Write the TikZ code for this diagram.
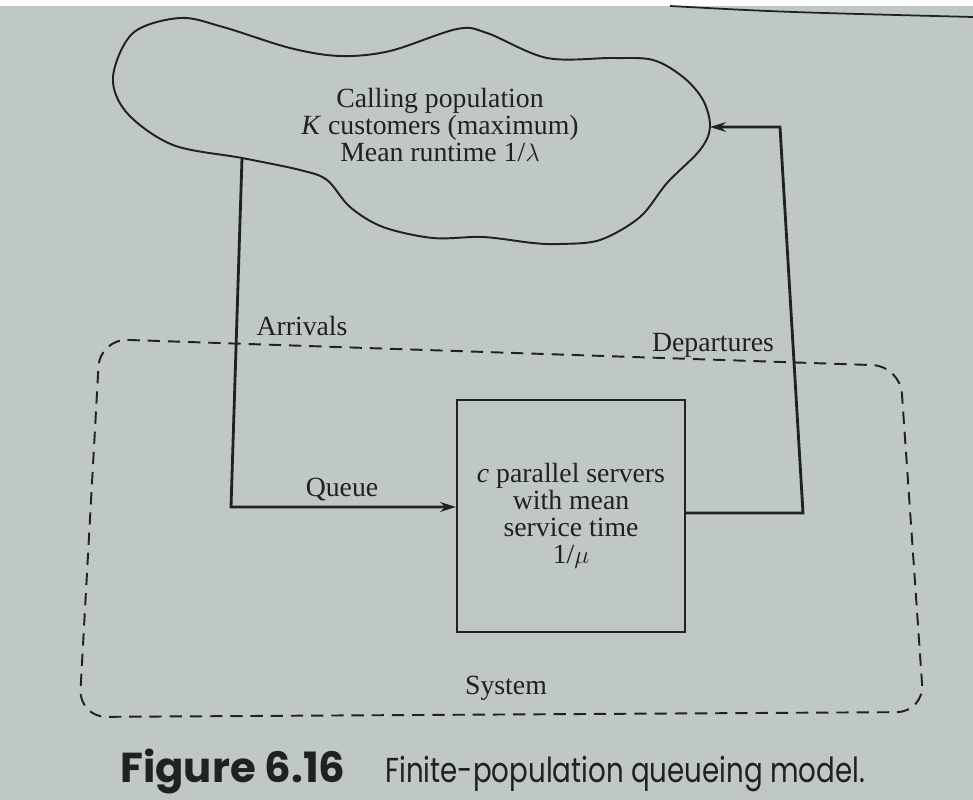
\documentclass[tikz,border=0pt]{standalone}
\usepackage{fontspec}
\setmainfont{Liberation Serif}
\newfontfamily\capfont[FakeStretch=0.80]{Poppins}
\newfontfamily\capboldfont{Poppins Bold}
\usetikzlibrary{arrows.meta}
\definecolor{paper}{RGB}{192,199,199}
\definecolor{ink}{RGB}{32,33,33}
\tikzset{
  flow/.style={draw=ink, line width=1.6pt, line join=miter},
  tipstyle/.style={-{Stealth[length=9pt,width=5.5pt]}},
  cloudline/.style={draw=ink, line width=1.1pt},
  sysline/.style={draw=ink, line width=1.1pt, dash pattern=on 7pt off 4.5pt, rounded corners=0.55cm},
  txt/.style={text=ink, font=\fontsize{15.8}{15.4}\selectfont, inner sep=0pt},
  serverbox/.style={draw=ink, line width=1.1pt, minimum width=4.56cm, minimum height=4.64cm, align=center, inner sep=0pt, text=ink, font=\fontsize{15.8}{15.4}\selectfont},
  captionstyle/.style={text=ink, inner sep=0pt, anchor=base west}
}
\begin{document}
\begin{tikzpicture}[x=0.02cm, y=-0.02cm]
% page
\fill[paper] (0,0) rectangle (973,800);
\fill[white] (0,0) rectangle (973,6);
\useasboundingbox (0,0) rectangle (973,800);
\draw[ink, line width=1pt] (670,6) .. controls (780,12) .. (973,17);

% calling population cloud
\draw[cloudline] plot[smooth cycle, tension=0.55] coordinates {
 (133,33) (180,18) (223,27) (290,48) (340,56) (390,51) (457,29) (487,33)
 (547,58) (613,58) (653,60) (683,77) (703,100) (710,127) (700,150) (667,183)
 (640,217) (600,240) (560,244) (533,243) (483,237) (433,238) (383,227)
 (350,207) (327,180) (300,170) (242,158) (173,145) (127,113) (113,77)};
\node[txt, align=center] (pop) at (440,125) {Calling population\\\textit{K} customers (maximum)\\Mean runtime 1/$\lambda$};

% system boundary
\draw[sysline] (100,339) -- (900,366) -- (924,712) -- (79,717) -- cycle;

% server
\node[serverbox] (server) at (571,516) {\textit{c} parallel servers\\with mean\\service time\\1/$\mu$};

% connectors
\coordinate (arrTop) at (242,158);
\coordinate (qc) at (231,507);
\coordinate (dc) at (803,513);
\coordinate (dt) at (780,127);
\coordinate (depIn) at (710,127);
\draw[flow, tipstyle] (arrTop) -- (qc) -- (qc -| server.west);
\draw[flow, tipstyle] (server.east |- dc) -- (dc) -- (dt) -- (depIn);

% labels
\node[txt] (arr) at (302,326) {Arrivals};
\node[txt] (dep) at (713,345) {Departures};
\node[txt] (queue) at (342,490) {Queue};
\node[txt] (sys) at (506,688) {System};

% caption
\node[captionstyle, font=\capboldfont\fontsize{23.8}{26}\selectfont] (fig) at (120,782) {Figure 6.16};
\node[captionstyle, font=\capfont\fontsize{19.7}{22}\selectfont] (captext) at (385,782) {Finite-population queueing model.};
\end{tikzpicture}
\end{document}
